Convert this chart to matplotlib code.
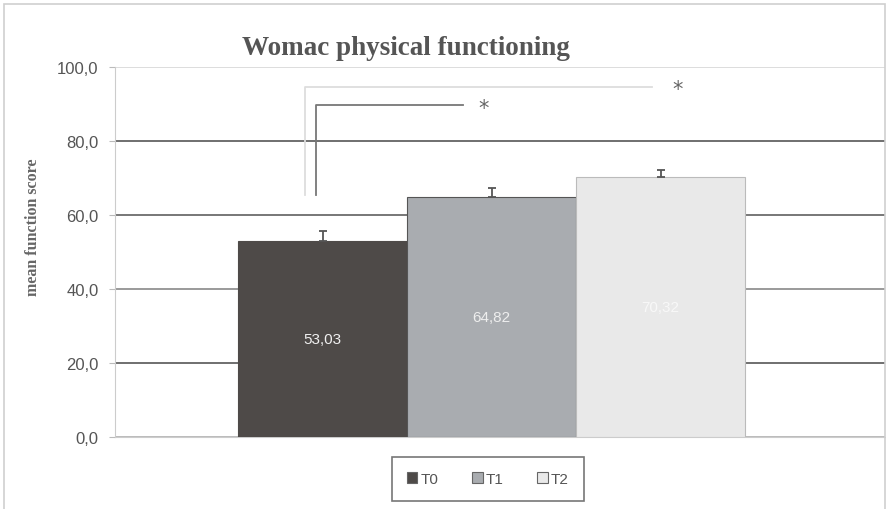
import numpy as np
import matplotlib
matplotlib.use('Agg')
import matplotlib.pyplot as plt
from matplotlib.patches import Rectangle

# data
groups = ['T0', 'T1', 'T2']
means = [53.03, 64.82, 70.32]
errs = [2.7, 2.5, 1.9]
labels = ['53,03', '64,82', '70,32']
colors = ['#4e4a48', '#a9acb0', '#e9e9e9']
label_colors = ['#f0f0f0', '#eeeeee', '#f8f8f8']
yticks = [0, 20, 40, 60, 80, 100]

fig = plt.figure(figsize=(8.87, 5.10), dpi=100)
ax = fig.add_axes([0.1297, 0.141, 0.868, 0.7255])

# chart frame
fig.patches.append(Rectangle((0.004, -0.01), 0.994, 1.0, transform=fig.transFigure,
                             fill=False, edgecolor='#cfcfcf', linewidth=1.2))

width = 0.2195
xs = 0.489 + (np.arange(len(groups)) - 1) * width
bars = ax.bar(xs, means, width=width, color=colors, edgecolor=['#4e4a48', '#555555', '#bbbbbb'],
              linewidth=0.8, zorder=3)
ax.errorbar(xs, means, yerr=[np.zeros(3), errs], fmt='none', ecolor='#555555',
            elinewidth=1.3, capsize=3, capthick=1.3, zorder=4)

for b, lab, lc in zip(bars, labels, label_colors):
    ax.text(b.get_x() + b.get_width() / 2, b.get_height() / 2, lab, ha='center', va='center',
            color=lc, fontsize=11, family='Liberation Sans', zorder=5)

ax.set_xlim(0, 1)
ax.set_ylim(0, 100)
ax.set_xticks([])
ax.set_yticks(yticks)
ax.set_yticklabels([('%.1f' % v).replace('.', ',') for v in yticks])
ax.tick_params(axis='y', labelsize=12, labelcolor='#555555', color='#bbbbbb', length=4, pad=8)
for t in ax.get_yticklabels():
    t.set_family('Liberation Sans')

ax.grid(axis='y', color='#7a7a7a', linewidth=1.4, zorder=0)
grid_cols = ['#bbbbbb', '#6f6f6f', '#9a9a9a', '#777777', '#6f6f6f', '#dddddd']
for gl, c in zip(ax.get_ygridlines(), grid_cols):
    gl.set_color(c)

for s in ['top', 'right']:
    ax.spines[s].set_visible(False)
ax.spines['left'].set_color('#cccccc')
ax.spines['bottom'].set_color('#cccccc')

# significance brackets
ax.plot([0.261, 0.261, 0.452], [65.5, 89.7, 89.7], color='#777777', lw=1.3, zorder=2, clip_on=False)
ax.plot([0.247, 0.247, 0.697], [65.5, 94.6, 94.6], color='#dddddd', lw=1.3, zorder=2, clip_on=False)
ax.text(0.479, 89.0, '*', ha='center', va='center', fontsize=15, color='#666666')
ax.text(0.731, 94.0, '*', ha='center', va='center', fontsize=15, color='#666666')

ax.set_ylabel('mean function score', family='Liberation Serif', fontweight='bold', fontsize=11.5,
              color='#666666')
ax.yaxis.set_label_coords(-0.096, 0.57)
fig.text(0.458, 0.905, 'Womac physical functioning', ha='center', va='center',
         family='Liberation Serif', fontweight='bold', fontsize=19.5, color='#555555')

handles = [Rectangle((0, 0), 1, 1, facecolor=c, edgecolor='#666666', linewidth=0.8) for c in colors]
leg = fig.legend(handles, groups, loc='center', bbox_to_anchor=(0.55, 0.059), ncol=3,
                 frameon=True, fancybox=False, edgecolor='#555555',
                 handlelength=0.7, handleheight=0.7, handletextpad=0.2, columnspacing=2.2,
                 borderpad=1.0, prop={'family': 'Liberation Sans', 'size': 11})
leg.get_frame().set_linewidth(1.2)
for t in leg.get_texts():
    t.set_color('#555555')

fig.savefig('out.png', dpi=100)
